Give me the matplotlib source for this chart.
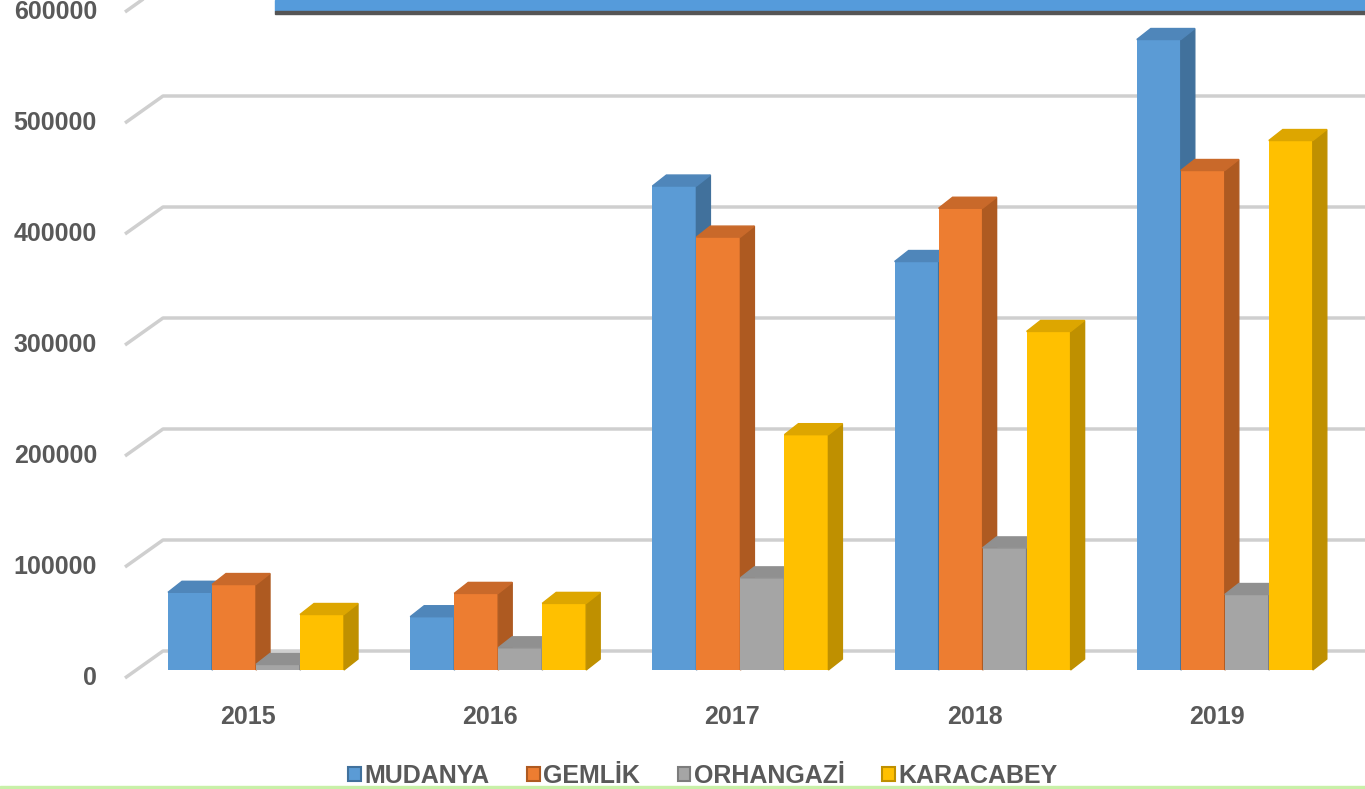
import numpy as np
import matplotlib.pyplot as plt
from matplotlib.patches import Patch, Rectangle

# data
years = ['2015', '2016', '2017', '2018', '2019']
series = ['MUDANYA', 'GEMLİK', 'ORHANGAZİ', 'KARACABEY']
mudanya = [70000, 48000, 436000, 368000, 568000]
gemlik = [77000, 69000, 390000, 416000, 450000]
orhangazi = [5000, 20000, 83000, 110000, 68000]
karacabey = [50000, 60000, 212000, 305000, 477000]
yticks = [0, 100000, 200000, 300000, 400000, 500000, 600000]

values = [mudanya, gemlik, orhangazi, karacabey]
front = ['#5B9BD5', '#ED7D31', '#A5A5A5', '#FFC000']
side = ['#41719C', '#AE5A21', '#7C7C7C', '#BF9000']
top = ['#4F86BA', '#C9692A', '#909090', '#DDA600']
txt = '#595959'

# pixel -> data helpers (figure is 1365x789 px, axes fill it)
PX = 242.2      # px per category
PY = 0.00111    # px per value unit


def dx(p):
    return p / PX


def dy(p):
    return p / PY


fig = plt.figure(figsize=(13.65, 7.89), dpi=100)
ax = fig.add_axes([0, 0, 1, 1])
ax.set_xlim(dx(-256), dx(1365 - 256))
ax.set_ylim(dy(670 - 789), dy(670))
ax.axis('off')

font = ['Liberation Sans', 'DejaVu Sans']

# back wall grid lines with the short diagonal from the front plane
x_front, x_back = dx(125 - 256), dx(163 - 256)
for v in yticks:
    yf = v - dy(8)
    yb = v + dy(19)
    ax.plot([x_front, x_back, ax.get_xlim()[1]], [yf, yb, yb],
            color='#CFCFCF', lw=2.5, zorder=1, solid_capstyle='butt')
    ax.text(dx(97 - 256), yf, f'{v}', ha='right', va='center',
            fontsize=18, fontweight='bold', color=txt, family=font)

# 3d-looking bars
w = dx(44)
ddx, ddy = dx(14), dy(11)
x0 = np.arange(len(years)) + dx(168 - 256)
z = 2
for j, vals in enumerate(values):
    for i, h in enumerate(vals):
        xl = x0[i] + j * w
        xr = xl + w
        ax.bar(xl, h, width=w, align='edge', color=front[j], zorder=z)
        ax.fill([xr, xr + ddx, xr + ddx, xr], [0, ddy, h + ddy, h],
                color=side[j], zorder=z)
        ax.fill([xl, xr, xr + ddx, xl + ddx], [h, h, h + ddy, h + ddy],
                color=top[j], zorder=z)
        z += 1

# category labels
for i, y in enumerate(years):
    ax.text(i - dx(8), dy(670 - 717), y, ha='center', va='center',
            fontsize=18, fontweight='bold', color=txt, family=font)

# legend
handles = [Patch(facecolor=front[j], edgecolor=side[j], lw=1.5) for j in range(4)]
leg = ax.legend(handles, series, loc='center', bbox_to_anchor=(0.515, 0.0165),
                bbox_transform=fig.transFigure, ncol=4, frameon=False,
                handlelength=0.5, handleheight=0.5, handletextpad=0.15,
                columnspacing=1.5, borderaxespad=0,
                prop={'size': 18, 'weight': 'bold', 'family': font})
for t in leg.get_texts():
    t.set_color(txt)

# title banner (cut at the top) and bottom green line
fig.patches.append(Rectangle((275 / 1365, 1 - 11 / 789), 1, 11 / 789,
                             transform=fig.transFigure, color='#559BDB', zorder=5))
fig.patches.append(Rectangle((275 / 1365, 1 - 14 / 789), 1, 3 / 789,
                             transform=fig.transFigure, color='#555555', zorder=5))
fig.patches.append(Rectangle((0, 0), 1, 3 / 789,
                             transform=fig.transFigure, color='#C8F0A8', zorder=5))

fig.savefig('out.png', dpi=100)
